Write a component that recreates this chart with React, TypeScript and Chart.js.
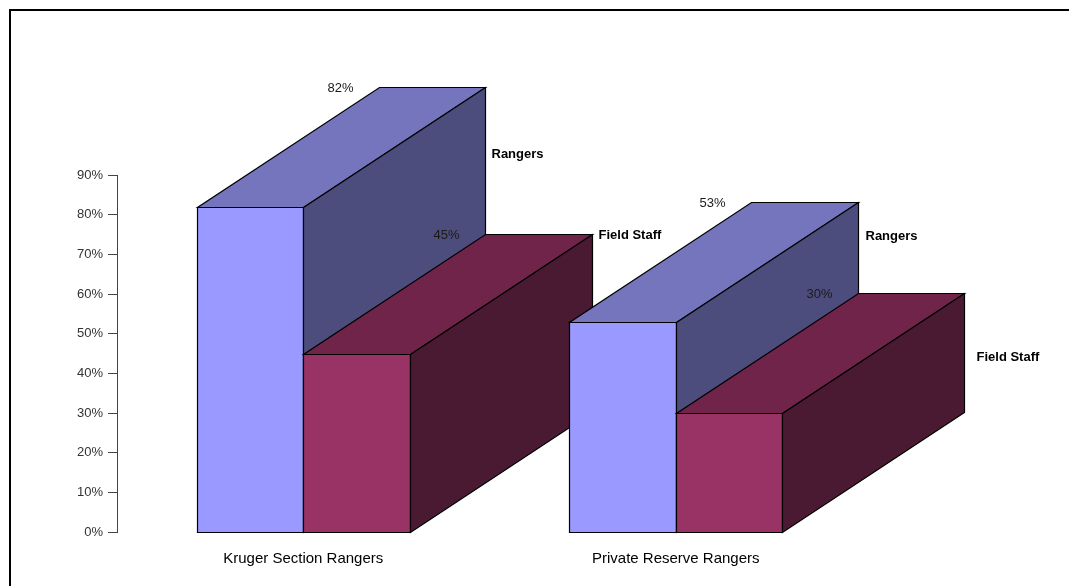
import { useEffect, useRef } from "react";
import { Chart, registerables } from "chart.js";

Chart.register(...registerables);

// Chart data
const categories = ["Kruger Section Rangers", "Private Reserve Rangers"];
const seriesNames = ["Rangers", "Field Staff"];
const rangers = [82, 53];
const fieldStaff = [45, 30];
const yTickMax = 90;
const yTickStep = 10;

// Look of the extruded boxes
const FONT = "'Liberation Sans', Arial, Helvetica, sans-serif";
const FACES = [
  { front: "#9999FF", top: "#7575BD", side: "#4C4C7D" },
  { front: "#993366", top: "#71244A", side: "#4A1A33" },
];
const DEPTH_X = 182;
const DEPTH_Y = 120;
// where each series name sits, relative to the back top-right corner of its box [series][category]
const NAME_OFFSETS = [
  [
    [6, 67],
    [7, 34],
  ],
  [
    [6, 1],
    [12, 64],
  ],
];

function poly(ctx: CanvasRenderingContext2D, pts: number[][], fill: string) {
  ctx.beginPath();
  ctx.moveTo(pts[0][0], pts[0][1]);
  for (let i = 1; i < pts.length; i++) ctx.lineTo(pts[i][0], pts[i][1]);
  ctx.closePath();
  ctx.fillStyle = fill;
  ctx.fill();
  ctx.stroke();
}

const boxes3d = {
  id: "boxes3d",
  beforeDraw(chart: any) {
    const ctx = chart.ctx as CanvasRenderingContext2D;
    ctx.save();
    ctx.fillStyle = "#fff";
    ctx.fillRect(0, 0, chart.width, chart.height);
    ctx.strokeStyle = "#000";
    ctx.lineWidth = 2;
    ctx.strokeRect(10, 10, chart.width + 20, chart.height + 20);
    ctx.restore();
  },
  beforeDatasetsDraw(chart: any) {
    const ctx = chart.ctx as CanvasRenderingContext2D;
    const metas = chart.data.datasets.map((_: any, i: number) => chart.getDatasetMeta(i));
    const labels: any[] = [];
    ctx.save();
    ctx.strokeStyle = "#000";
    ctx.lineWidth = 1.2;
    ctx.lineJoin = "miter";
    for (let c = 0; c < categories.length; c++) {
      for (let d = 0; d < metas.length; d++) {
        const el = metas[d].data[c];
        const { x, y, base, width } = el.getProps(["x", "y", "base", "width"], true);
        const l = Math.round(x - width / 2) + 0.5;
        const r = Math.round(x + width / 2) + 0.5;
        const t = Math.round(y) + 0.5;
        const b = Math.round(base) + 0.5;
        const f = FACES[d];
        // front face
        poly(ctx, [[l, t], [r, t], [r, b], [l, b]], f.front);
        // top face
        poly(
          ctx,
          [[l, t], [r, t], [r + DEPTH_X, t - DEPTH_Y], [l + DEPTH_X, t - DEPTH_Y]],
          f.top
        );
        // right side face
        poly(
          ctx,
          [[r, t], [r + DEPTH_X, t - DEPTH_Y], [r + DEPTH_X, b - DEPTH_Y], [r, b]],
          f.side
        );
        const value = chart.data.datasets[d].data[c];
        const off = NAME_OFFSETS[d][c];
        labels.push({
          value: value + "%",
          vx: l + DEPTH_X - 26,
          vy: t - DEPTH_Y + 1,
          name: seriesNames[d],
          nx: r + DEPTH_X + off[0],
          ny: t - DEPTH_Y + off[1],
        });
      }
    }
    ctx.textBaseline = "middle";
    for (const lb of labels) {
      ctx.font = `13px ${FONT}`;
      ctx.fillStyle = "#1a1a1a";
      ctx.textAlign = "right";
      ctx.fillText(lb.value, lb.vx, lb.vy);
      ctx.font = `bold 13px ${FONT}`;
      ctx.fillStyle = "#000";
      ctx.textAlign = "left";
      ctx.fillText(lb.name, lb.nx, lb.ny);
    }
    ctx.restore();
    return false;
  },
};

export default function App() {
  const canvasRef = useRef<HTMLCanvasElement | null>(null);

  useEffect(() => {
    if (!canvasRef.current) return;
    const chart = new Chart(canvasRef.current, {
      type: "bar",
      data: {
        labels: categories,
        datasets: [
          {
            label: seriesNames[0],
            data: rangers,
            backgroundColor: FACES[0].front,
            categoryPercentage: 0.572,
            barPercentage: 1,
          },
          {
            label: seriesNames[1],
            data: fieldStaff,
            backgroundColor: FACES[1].front,
            categoryPercentage: 0.572,
            barPercentage: 1,
          },
        ],
      },
      options: {
        animation: false,
        responsive: true,
        maintainAspectRatio: false,
        layout: { padding: { top: 175, right: 207, left: 0, bottom: 0 } },
        plugins: {
          legend: { display: false },
          tooltip: { enabled: false },
        },
        scales: {
          x: {
            grid: { display: false, drawTicks: false },
            border: { display: false },
            ticks: {
              color: "#000",
              padding: 18,
              font: { family: FONT, size: 15 },
            },
            afterFit: (scale: any) => {
              scale.height = 54;
            },
          },
          y: {
            min: 0,
            max: yTickMax,
            ticks: {
              stepSize: yTickStep,
              color: "#333",
              padding: 5,
              font: { family: FONT, size: 13 },
              callback: (v: any) => `${v}%`,
            },
            grid: {
              display: true,
              drawOnChartArea: false,
              drawTicks: true,
              tickLength: 9,
              color: "#444",
            },
            border: { display: true, color: "#444", width: 1 },
            afterFit: (scale: any) => {
              scale.width = 117;
            },
          },
        },
      },
      plugins: [boxes3d],
    });
    return () => chart.destroy();
  }, []);

  return (
    <div style={{ position: "absolute", left: 0, top: 0, width: 1069, height: 586 }}>
      <canvas ref={canvasRef} />
    </div>
  );
}
